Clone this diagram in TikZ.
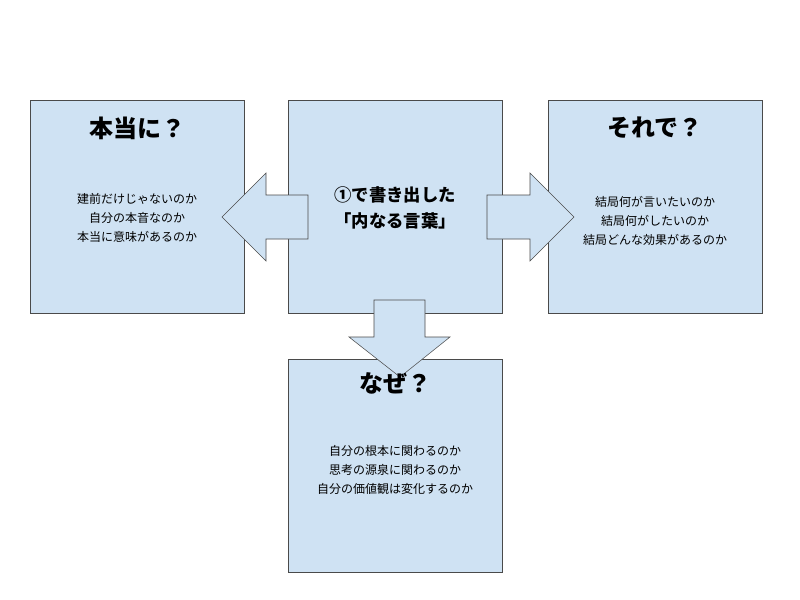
\documentclass[tikz,border=0pt]{standalone}
\usepackage{fontspec}
\setmainfont{Noto Sans CJK JP}
\usetikzlibrary{positioning}
\definecolor{boxblue}{HTML}{CFE2F3}
\definecolor{edgegray}{HTML}{4A4A4A}
\tikzset{%
	panel/.style   = {draw=edgegray, fill=boxblue, rectangle, inner sep=0pt, minimum width=160.5pt, minimum height=160pt},
	heading/.style = {font=\fontsize{18}{20}\selectfont\bfseries},
	lines/.style   = {align=center, font=\fontsize{9}{14}\selectfont},
	bigarrow/.style= {draw=edgegray, fill=boxblue, line join=miter},
}
\begin{document}
\begin{tikzpicture}[x=0.75pt,y=-0.75pt]
	\useasboundingbox (0,0) rectangle (800,600);
	% panels
	\node[panel] (main) at (395,207) {};
	\node[panel] (real) at (137,207) {};
	\node[panel] (sowhat) at (655,207) {};
	\node[panel] (why) at (395,466) {};
	% arrows
	\draw[bigarrow] (308,195) -- (266,195) -- (266,173) -- (222,217) -- (266,261) -- (266,239) -- (308,239) -- cycle;
	\draw[bigarrow] (487,195) -- (530,195) -- (530,173) -- (574,217) -- (530,261) -- (530,239) -- (487,239) -- cycle;
	\draw[bigarrow] (374,300) -- (425,300) -- (425,337) -- (450,337) -- (400,377) -- (349,337) -- (374,337) -- cycle;
	% texts
	\node[lines, font=\fontsize{13}{19}\selectfont\bfseries] (maintext) at (395,208) {①で書き出した\\「内なる言葉」};
	\node[heading] (realtitle) at (137,128) {本当に？};
	\node[lines] (realtext) at (137,218) {建前だけじゃないのか\\自分の本音なのか\\本当に意味があるのか};
	\node[heading] (sowhattitle) at (655,128) {それで？};
	\node[lines] (sowhattext) at (655,221) {結局何が言いたいのか\\結局何がしたいのか\\結局どんな効果があるのか};
	\node[heading] (whytitle) at (395,383) {なぜ？};
	\node[lines] (whytext) at (395,470) {自分の根本に関わるのか\\思考の源泉に関わるのか\\自分の価値観は変化するのか};
\end{tikzpicture}
\end{document}
